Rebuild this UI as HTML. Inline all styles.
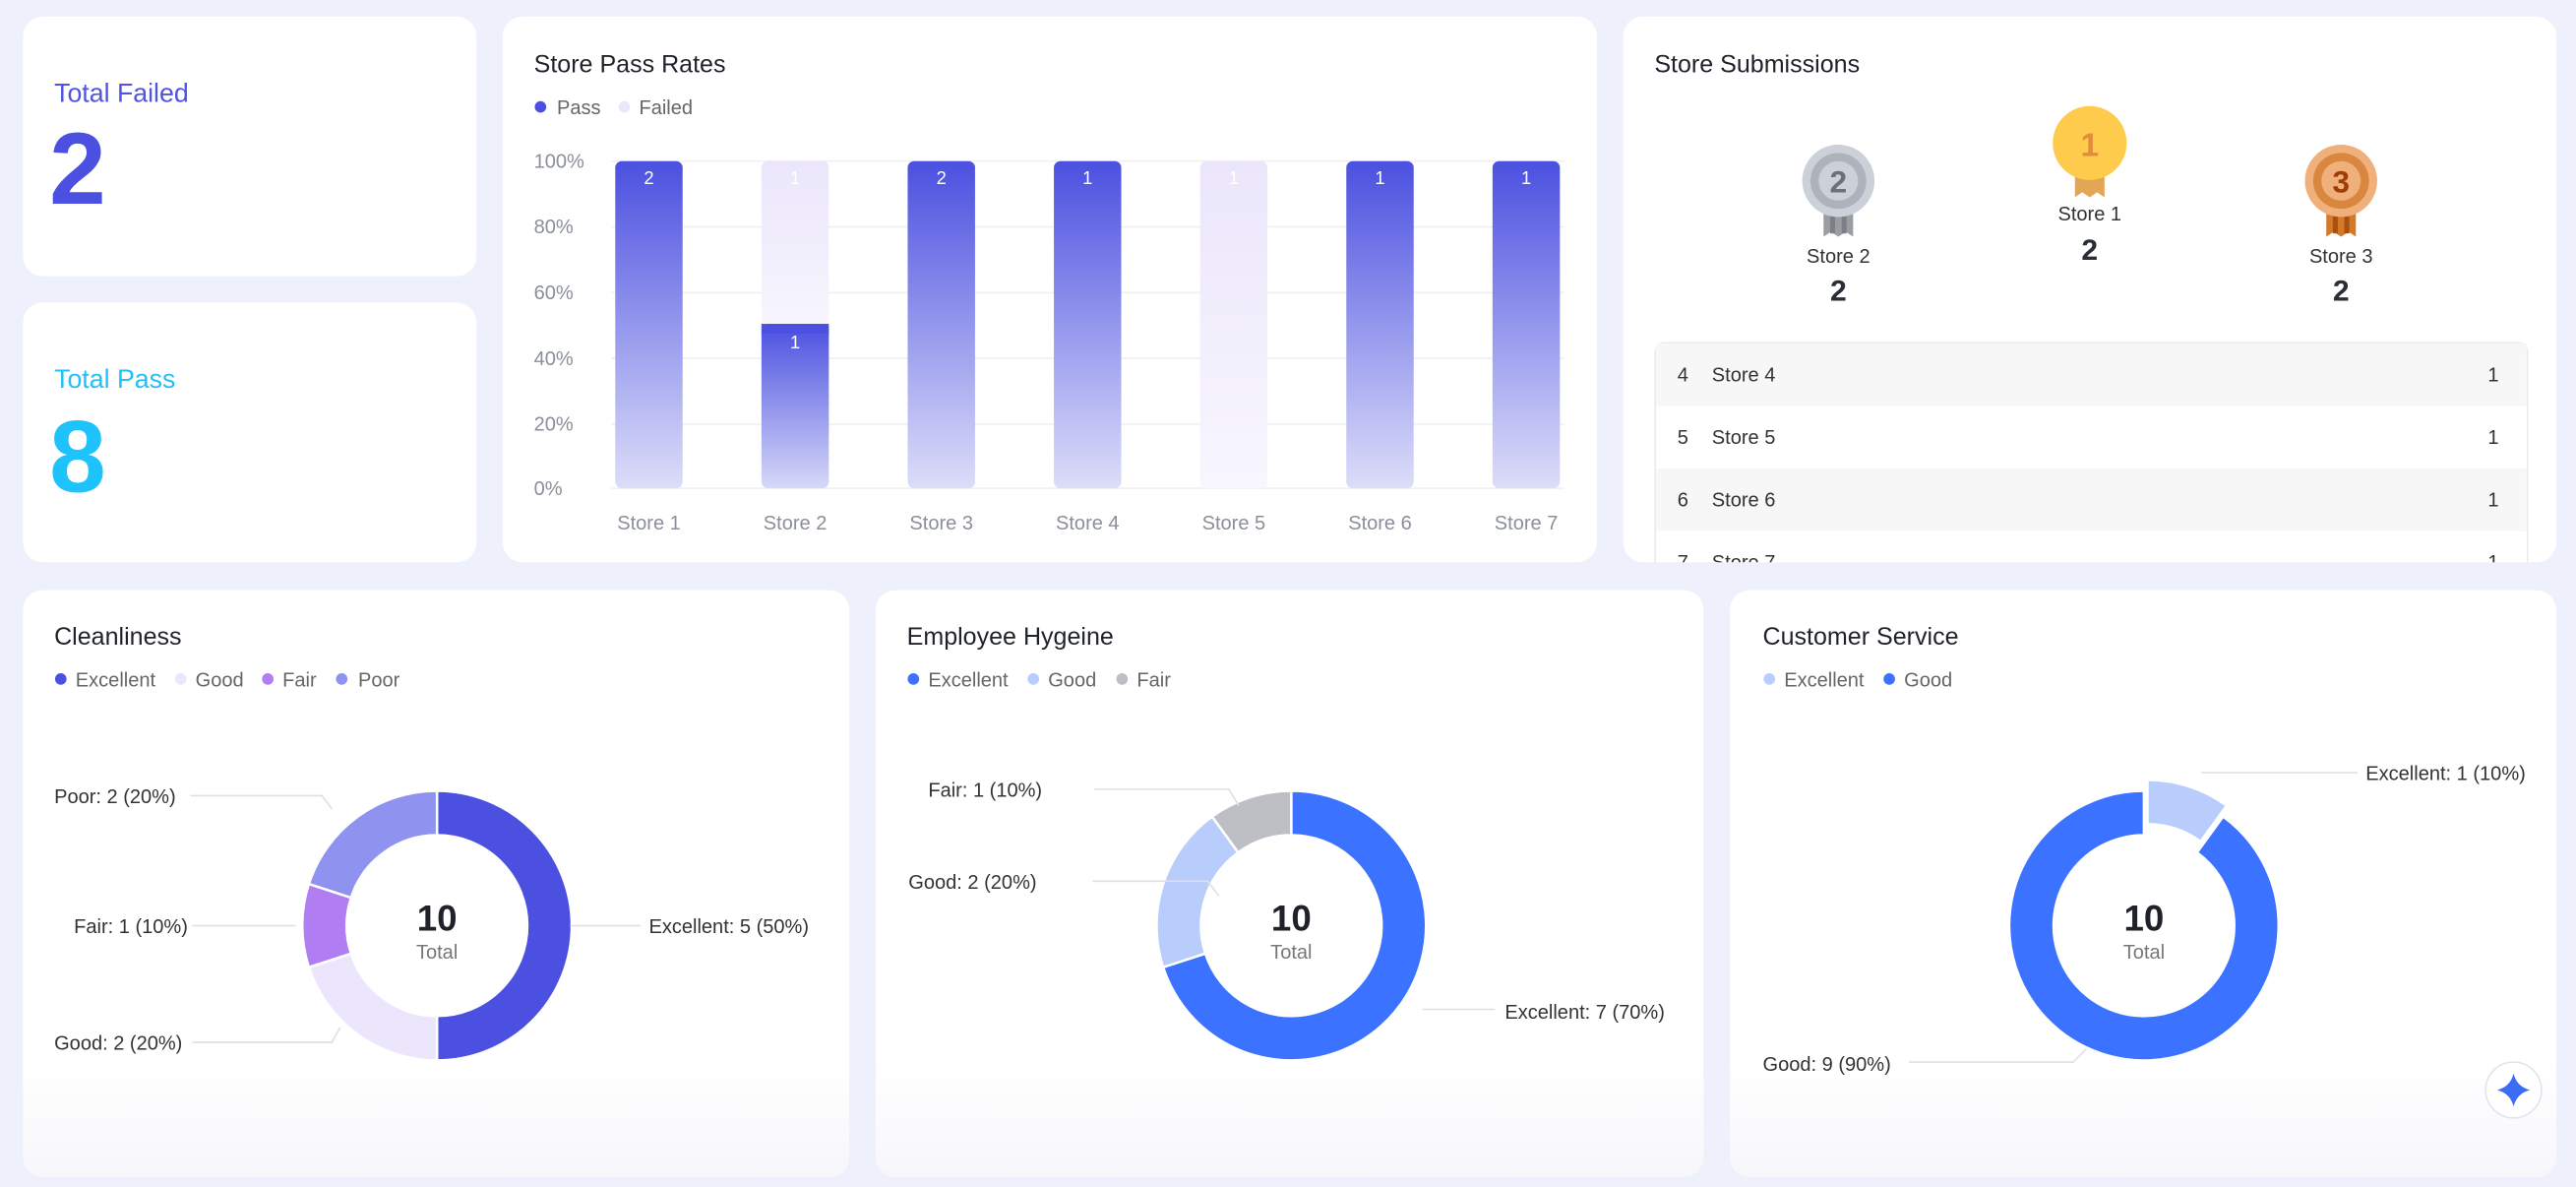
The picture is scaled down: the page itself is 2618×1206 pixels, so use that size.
<!DOCTYPE html>
<html><head><meta charset="utf-8"><style>
html,body{margin:0;padding:0;width:2618px;height:1206px;overflow:hidden;background:#eef0fb}
svg{display:block}
text{font-family:"Liberation Sans",sans-serif}
</style></head><body>
<svg id="s" width="2618" height="1206" viewBox="0 0 1568 722" preserveAspectRatio="none" xmlns="http://www.w3.org/2000/svg">
<defs>
<linearGradient id="gp" x1="0" y1="0" x2="0" y2="1"><stop offset="0" stop-color="#4b50e0"/><stop offset="1" stop-color="#dcddf9"/></linearGradient>
<linearGradient id="gp2" x1="0" y1="0" x2="0" y2="1"><stop offset="0" stop-color="#4b50e0"/><stop offset="1" stop-color="#d6d8f8"/></linearGradient>
<linearGradient id="gf" x1="0" y1="0" x2="0" y2="1"><stop offset="0" stop-color="#ebe6fb"/><stop offset="1" stop-color="#f8f6fe"/></linearGradient>
<linearGradient id="gbot" x1="0" y1="0" x2="0" y2="1"><stop offset="0.8" stop-color="#fff"/><stop offset="1" stop-color="#f7f7fb"/></linearGradient>
<clipPath id="subclip"><rect x="988" y="10" width="568" height="332" rx="12"/></clipPath>
</defs>
<rect width="1568" height="722" fill="#eef0fb"/>
<!-- KPI cards -->
<rect x="14" y="10" width="276" height="158" rx="12" fill="#fff"/>
<text x="33" y="62" font-size="16" fill="#4f55e0">Total Failed</text>
<text x="30" y="124" font-size="62" font-weight="bold" fill="#4b50e0">2</text>
<rect x="14" y="184" width="276" height="158" rx="12" fill="#fff"/>
<text x="33" y="236" font-size="16" fill="#22c0f8">Total Pass</text>
<text x="30" y="299" font-size="62" font-weight="bold" fill="#1ec3fb">8</text>
<!-- Store pass rates -->
<rect x="306" y="10" width="666" height="332" rx="12" fill="#fff"/>
<text x="325" y="44" font-size="15" fill="#1f2329">Store Pass Rates</text>
<circle cx="329" cy="65" r="3.5" fill="#4b50e0"/><text x="339" y="69.5" font-size="12" fill="#666">Pass</text>
<circle cx="380" cy="65" r="3.5" fill="#ebe6fb"/><text x="389" y="69.5" font-size="12" fill="#666">Failed</text>
<g id="bars"></g>
<!-- Store submissions -->
<rect x="988" y="10" width="568" height="332" rx="12" fill="#fff"/>
<text x="1007" y="44" font-size="15" fill="#1f2329">Store Submissions</text>
<!-- silver -->
<g>
<path d="M1110 126 h18 v18 l-4.5 -3 -4.5 3 -4.5 -3 -4.5 3z" fill="#9a9da4"/>
<rect x="1114" y="126" width="3" height="16" fill="#7c7f86"/><rect x="1121" y="126" width="3" height="16" fill="#7c7f86"/>
<circle cx="1119" cy="110" r="22" fill="#ccd0d8"/><circle cx="1119" cy="110" r="17" fill="#aeb2ba"/><circle cx="1119" cy="110" r="12" fill="#ccd0d8"/>
<text x="1119" y="117" font-size="19" font-weight="bold" fill="#6d7078" text-anchor="middle">2</text>
</g>
<g>
<path d="M1263 102 h18 v18 l-4.5 -3 -4.5 3 -4.5 -3 -4.5 3z" fill="#e3a656"/>
<circle cx="1272" cy="87" r="22.5" fill="#fecb4d"/>
<text x="1272" y="95" font-size="20" font-weight="bold" fill="#e08e3c" text-anchor="middle">1</text>
</g>
<g>
<path d="M1416 126 h18 v18 l-4.5 -3 -4.5 3 -4.5 -3 -4.5 3z" fill="#d27a2a"/>
<rect x="1420" y="126" width="3" height="16" fill="#a94f10"/><rect x="1427" y="126" width="3" height="16" fill="#a94f10"/>
<circle cx="1425" cy="110" r="22" fill="#efb07b"/><circle cx="1425" cy="110" r="17" fill="#d9873f"/><circle cx="1425" cy="110" r="12" fill="#efb07b"/>
<text x="1425" y="117" font-size="19" font-weight="bold" fill="#9e3e05" text-anchor="middle">3</text>
</g>
<text x="1119" y="160" font-size="12" fill="#333" text-anchor="middle">Store 2</text>
<text x="1119" y="183" font-size="18" font-weight="bold" fill="#2a2e36" text-anchor="middle">2</text>
<text x="1272" y="134" font-size="12" fill="#333" text-anchor="middle">Store 1</text>
<text x="1272" y="158" font-size="18" font-weight="bold" fill="#2a2e36" text-anchor="middle">2</text>
<text x="1425" y="160" font-size="12" fill="#333" text-anchor="middle">Store 3</text>
<text x="1425" y="183" font-size="18" font-weight="bold" fill="#2a2e36" text-anchor="middle">2</text>
<g clip-path="url(#subclip)">
<rect x="1007.5" y="208.5" width="531" height="160" rx="6" fill="#fff" stroke="#ececef"/>
<rect x="1008" y="209" width="530" height="38" fill="#f7f7f8"/>
<rect x="1008" y="285" width="530" height="38" fill="#f7f7f8"/>
<g font-size="12" fill="#333">
<text x="1021" y="232">4</text><text x="1042" y="232">Store 4</text><text x="1521" y="232" text-anchor="end">1</text>
<text x="1021" y="270">5</text><text x="1042" y="270">Store 5</text><text x="1521" y="270" text-anchor="end">1</text>
<text x="1021" y="308">6</text><text x="1042" y="308">Store 6</text><text x="1521" y="308" text-anchor="end">1</text>
<text x="1021" y="346">7</text><text x="1042" y="346">Store 7</text><text x="1521" y="346" text-anchor="end">1</text>
</g>
</g>
<!-- bottom cards -->
<rect x="14" y="359" width="503" height="357" rx="12" fill="url(#gbot)"/>
<rect x="533" y="359" width="504" height="357" rx="12" fill="url(#gbot)"/>
<rect x="1053" y="359" width="503" height="357" rx="12" fill="url(#gbot)"/>
<text x="33" y="392" font-size="15" fill="#1f2329">Cleanliness</text>
<text x="552" y="392" font-size="15" fill="#1f2329">Employee Hygeine</text>
<text x="1073" y="392" font-size="15" fill="#1f2329">Customer Service</text>
<g font-size="12" fill="#666">
<circle cx="37" cy="413" r="3.5" fill="#4b50e0"/><text x="46" y="417.5">Excellent</text>
<circle cx="110" cy="413" r="3.5" fill="#ebe6fb"/><text x="119" y="417.5">Good</text>
<circle cx="163" cy="413" r="3.5" fill="#b07ef2"/><text x="172" y="417.5">Fair</text>
<circle cx="208" cy="413" r="3.5" fill="#8f93ef"/><text x="218" y="417.5">Poor</text>
<circle cx="556" cy="413" r="3.5" fill="#3b72ff"/><text x="565" y="417.5">Excellent</text>
<circle cx="629" cy="413" r="3.5" fill="#b8cdfc"/><text x="638" y="417.5">Good</text>
<circle cx="683" cy="413" r="3.5" fill="#bdbfc4"/><text x="692" y="417.5">Fair</text>
<circle cx="1077" cy="413" r="3.5" fill="#b8cdfc"/><text x="1086" y="417.5">Excellent</text>
<circle cx="1150" cy="413" r="3.5" fill="#3b72ff"/><text x="1159" y="417.5">Good</text>
</g>
<g id="donuts"></g>
<g fill="none" stroke="#dfe0e4" stroke-width="1">
<polyline points="347,563 390,563"/>
<polyline points="117,634 202,634 207,625"/>
<polyline points="117,563 180,563"/>
<polyline points="116,484 196,484 202,492"/>
<polyline points="666,480 748,480 754,490"/>
<polyline points="665,536 735,536 742,545"/>
<polyline points="866,614 910,614"/>
<polyline points="1340,470 1435,470"/>
<polyline points="1162,646 1262,646 1270,638"/>
</g>
<g font-size="12" fill="#333">
<text x="395" y="567.5">Excellent: 5 (50%)</text>
<text x="33" y="638.5">Good: 2 (20%)</text>
<text x="45" y="567.5">Fair: 1 (10%)</text>
<text x="33" y="488.5">Poor: 2 (20%)</text>
<text x="565" y="484.5">Fair: 1 (10%)</text>
<text x="553" y="540.5">Good: 2 (20%)</text>
<text x="916" y="619.5">Excellent: 7 (70%)</text>
<text x="1440" y="474.5">Excellent: 1 (10%)</text>
<text x="1073" y="651.5">Good: 9 (90%)</text>
</g>
<g text-anchor="middle">
<text x="266" y="566" font-size="22" font-weight="bold" fill="#1f2329">10</text><text x="266" y="583" font-size="12" fill="#777">Total</text>
<text x="786" y="566" font-size="22" font-weight="bold" fill="#1f2329">10</text><text x="786" y="583" font-size="12" fill="#777">Total</text>
<text x="1305" y="566" font-size="22" font-weight="bold" fill="#1f2329">10</text><text x="1305" y="583" font-size="12" fill="#777">Total</text>
</g>
<circle cx="1530" cy="663" r="17" fill="#fff" stroke="#e3e5ee"/>
<path d="M1530 653 Q1532 661 1540 663 Q1532 665 1530 673 Q1528 665 1520 663 Q1528 661 1530 653Z" fill="#3b6cf6"/>
</svg>
<script>
var NS="http://www.w3.org/2000/svg";
function el(p,t,a,txt){var e=document.createElementNS(NS,t);for(var k in a)e.setAttribute(k,a[k]);if(txt!=null)e.textContent=txt;p.appendChild(e);return e;}
var bars=document.getElementById('bars');
var ys=[98,138,178,218,258,297],lb=['100%','80%','60%','40%','20%','0%'];
for(var i=0;i<6;i++){el(bars,'line',{x1:372,x2:952,y1:ys[i],y2:ys[i],stroke:'#f0f0f2','stroke-width':1});el(bars,'text',{x:325,y:ys[i]+4,'font-size':12,fill:'#8a8f99'},lb[i]);}
var cx=[395,484,573,662,751,840,929],vals=['2','1','2','1','1','1','1'],type=['p','s','p','p','f','p','p'];
for(var i=0;i<7;i++){var x=cx[i]-20.5;
 if(type[i]=='p'){el(bars,'rect',{x:x,y:98,width:41,height:199,rx:4,fill:'url(#gp)'});el(bars,'text',{x:cx[i],y:112,'font-size':11,fill:'#fff','text-anchor':'middle'},vals[i]);}
 else if(type[i]=='f'){el(bars,'rect',{x:x,y:98,width:41,height:199,rx:4,fill:'url(#gf)'});el(bars,'text',{x:cx[i],y:112,'font-size':11,fill:'#fff','text-anchor':'middle'},'1');}
 else{el(bars,'rect',{x:x,y:98,width:41,height:104,rx:4,fill:'url(#gf)'});el(bars,'rect',{x:x,y:197,width:41,height:100,rx:4,fill:'url(#gp2)'});el(bars,'rect',{x:x,y:197,width:41,height:6,fill:'#4b50e0'});
  el(bars,'text',{x:cx[i],y:112,'font-size':11,fill:'#fff','text-anchor':'middle'},'1');el(bars,'text',{x:cx[i],y:212,'font-size':11,fill:'#fff','text-anchor':'middle'},'1');}
 el(bars,'text',{x:cx[i],y:322,'font-size':12,fill:'#8a8f99','text-anchor':'middle'},'Store '+(i+1));
}
var d=document.getElementById('donuts');
function P(c,r,a){a=a*Math.PI/180;return [c[0]+r*Math.sin(a),c[1]-r*Math.cos(a)];}
function arc(c,r0,r1,a0,a1,fill,off){
 if(off){var m=(a0+a1)/2*Math.PI/180;c=[c[0]+off*Math.sin(m),c[1]-off*Math.cos(m)];}
 var L=(a1-a0)>180?1:0,p1=P(c,r1,a0),p2=P(c,r1,a1),p3=P(c,r0,a1),p4=P(c,r0,a0);
 el(d,'path',{d:'M'+p1+' A'+r1+','+r1+' 0 '+L+' 1 '+p2+' L'+p3+' A'+r0+','+r0+' 0 '+L+' 0 '+p4+'Z',fill:fill,stroke:'#fff','stroke-width':1.5});
}
function donut(c,segs){var a=0;segs.forEach(function(s){var b=a+s[0]*3.6;arc(c,55,82,a,b,s[1],s[2]||0);a=b;});}
donut([266,563],[[50,'#4b50e0'],[20,'#ebe6fb'],[10,'#b07ef2'],[20,'#8f93ef']]);
donut([786,563],[[70,'#3b72ff'],[20,'#b8cdfc'],[10,'#bdbfc4']]);
donut([1305,563],[[10,'#b8cdfc',7],[90,'#3b72ff']]);
</script>
</body></html>
